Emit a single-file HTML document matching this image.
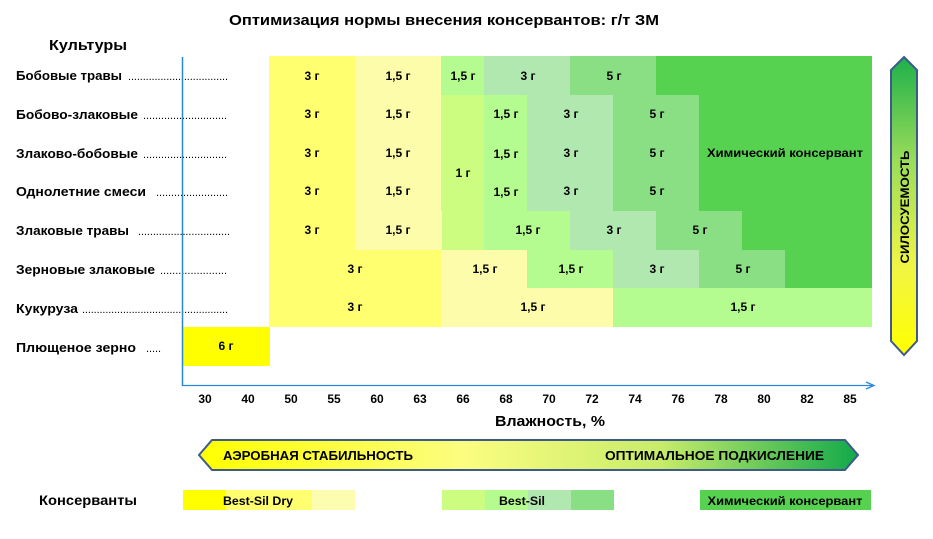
<!DOCTYPE html>
<html><head><meta charset="utf-8"><style>
html,body{margin:0;padding:0;background:#fff;}
svg{display:block;font-family:"Liberation Sans","DejaVu Sans",sans-serif;font-weight:bold;}
</style></head><body>
<svg width="933" height="539" viewBox="0 0 933 539" xmlns="http://www.w3.org/2000/svg">
<defs>
<linearGradient id="gv" x1="0" y1="0" x2="0" y2="1">
<stop offset="0" stop-color="#1DB04A"/><stop offset="0.35" stop-color="#9BDC5A"/><stop offset="0.7" stop-color="#F0F545"/><stop offset="1" stop-color="#FFFF00"/>
</linearGradient>
<linearGradient id="gh" x1="0" y1="0" x2="1" y2="0">
<stop offset="0" stop-color="#FFFF00"/><stop offset="0.4" stop-color="#FBFD80"/><stop offset="0.7" stop-color="#C8EC6A"/><stop offset="1" stop-color="#12A94A"/>
</linearGradient>
</defs>
<text x="444" y="25" font-size="15" text-anchor="middle" textLength="430" lengthAdjust="spacingAndGlyphs">Оптимизация нормы внесения консервантов: г/т ЗМ</text>
<text x="49" y="50" font-size="15" textLength="78" lengthAdjust="spacingAndGlyphs">Культуры</text>

<g font-size="13" fill="#000">
<text x="16" y="80" textLength="106" lengthAdjust="spacingAndGlyphs">Бобовые травы</text>
<text x="16" y="119" textLength="122" lengthAdjust="spacingAndGlyphs">Бобово-злаковые</text>
<text x="16" y="158" textLength="122" lengthAdjust="spacingAndGlyphs">Злаково-бобовые</text>
<text x="16" y="196" textLength="130" lengthAdjust="spacingAndGlyphs">Однолетние смеси</text>
<text x="16" y="235" textLength="113" lengthAdjust="spacingAndGlyphs">Злаковые травы</text>
<text x="16" y="274" textLength="139" lengthAdjust="spacingAndGlyphs">Зерновые злаковые</text>
<text x="16" y="313" textLength="62" lengthAdjust="spacingAndGlyphs">Кукуруза</text>
<text x="16" y="352" textLength="120" lengthAdjust="spacingAndGlyphs">Плющеное зерно</text>
</g>
<g font-size="11" font-weight="normal" fill="#000">
<text x="128" y="80" textLength="100" lengthAdjust="spacing">..................................</text>
<text x="143" y="119" textLength="84" lengthAdjust="spacing">............................</text>
<text x="143" y="158" textLength="84" lengthAdjust="spacing">............................</text>
<text x="156" y="196" textLength="72" lengthAdjust="spacing">........................</text>
<text x="138" y="235" textLength="92" lengthAdjust="spacing">...............................</text>
<text x="160" y="274" textLength="67" lengthAdjust="spacing">......................</text>
<text x="82" y="313" textLength="146" lengthAdjust="spacing">..................................................</text>
<text x="146" y="352" textLength="15" lengthAdjust="spacing">.....</text>
</g>

<!-- cells: col c x=183+43.06c ; row r y=56+38.8r -->
<g>
<!-- row0 -->
<rect x="269" y="56" width="87" height="39" fill="#FFFF70"/>
<rect x="355" y="56" width="87" height="39" fill="#FCFCAA"/>
<rect x="441" y="56" width="44" height="39" fill="#B4FC90"/>
<rect x="484" y="56" width="87" height="39" fill="#B0E8B0"/>
<rect x="570" y="56" width="87" height="39" fill="#8ADE84"/>
<rect x="656" y="56" width="216" height="39" fill="#56D250"/>
<!-- rows1-3 -->
<rect x="269" y="95" width="87" height="117" fill="#FFFF70"/>
<rect x="355" y="95" width="87" height="117" fill="#FCFCAA"/>
<rect x="441" y="95" width="44" height="156" fill="#CCFC80"/>
<rect x="484" y="95" width="44" height="117" fill="#B4FC90"/>
<rect x="527" y="95" width="87" height="117" fill="#B0E8B0"/>
<rect x="613" y="95" width="87" height="117" fill="#8ADE84"/>
<rect x="699" y="95" width="173" height="117" fill="#56D250"/>
<!-- row4 -->
<rect x="269" y="211" width="87" height="40" fill="#FFFF70"/>
<rect x="355" y="211" width="87" height="40" fill="#FCFCAA"/>
<rect x="484" y="211" width="87" height="40" fill="#B4FC90"/>
<rect x="570" y="211" width="87" height="40" fill="#B0E8B0"/>
<rect x="656" y="211" width="87" height="40" fill="#8ADE84"/>
<rect x="742" y="211" width="130" height="40" fill="#56D250"/>
<!-- row5 -->
<rect x="269" y="250" width="173" height="39" fill="#FFFF70"/>
<rect x="441" y="250" width="87" height="39" fill="#FCFCAA"/>
<rect x="527" y="250" width="87" height="39" fill="#B4FC90"/>
<rect x="613" y="250" width="87" height="39" fill="#B0E8B0"/>
<rect x="699" y="250" width="87" height="39" fill="#8ADE84"/>
<rect x="785" y="250" width="87" height="39" fill="#56D250"/>
<!-- row6 -->
<rect x="269" y="288" width="173" height="39" fill="#FFFF70"/>
<rect x="441" y="288" width="173" height="39" fill="#FCFCAA"/>
<rect x="613" y="288" width="259" height="39" fill="#B4FC90"/>
<!-- row7 -->
<rect x="183" y="327" width="87" height="39" fill="#FFFF00"/>
</g>

<g font-size="12" text-anchor="middle" fill="#000">
<text x="312" y="80">3 г</text><text x="398" y="80">1,5 г</text><text x="463" y="80">1,5 г</text><text x="528" y="80">3 г</text><text x="614" y="80">5 г</text>
<text x="312" y="118">3 г</text><text x="398" y="118">1,5 г</text><text x="506" y="118">1,5 г</text><text x="571" y="118">3 г</text><text x="657" y="118">5 г</text>
<text x="312" y="157">3 г</text><text x="398" y="157">1,5 г</text><text x="506" y="158">1,5 г</text><text x="571" y="157">3 г</text><text x="657" y="157">5 г</text>
<text x="785" y="157" textLength="156" lengthAdjust="spacingAndGlyphs">Химический консервант</text>
<text x="463" y="177">1 г</text>
<text x="312" y="195">3 г</text><text x="398" y="195">1,5 г</text><text x="506" y="196">1,5 г</text><text x="571" y="195">3 г</text><text x="657" y="195">5 г</text>
<text x="312" y="234">3 г</text><text x="398" y="234">1,5 г</text><text x="528" y="234">1,5 г</text><text x="614" y="234">3 г</text><text x="700" y="234">5 г</text>
<text x="355" y="273">3 г</text><text x="485" y="273">1,5 г</text><text x="571" y="273">1,5 г</text><text x="657" y="273">3 г</text><text x="743" y="273">5 г</text>
<text x="355" y="311">3 г</text><text x="533" y="311">1,5 г</text><text x="743" y="311">1,5 г</text>
<text x="226" y="350">6 г</text>
</g>

<!-- axes -->
<line x1="182.5" y1="57" x2="182.5" y2="386" stroke="#2A86D6" stroke-width="1.5"/>
<line x1="182" y1="385.5" x2="872" y2="385.5" stroke="#2A86D6" stroke-width="1.3"/>
<path d="M866 382 L874 385.5 L866 389" fill="none" stroke="#2A86D6" stroke-width="1.3"/>

<g font-size="12" text-anchor="middle">
<text x="205" y="403">30</text><text x="248" y="403">40</text><text x="291" y="403">50</text><text x="334" y="403">55</text><text x="377" y="403">60</text><text x="420" y="403">63</text><text x="463" y="403">66</text><text x="506" y="403">68</text><text x="549" y="403">70</text><text x="592" y="403">72</text><text x="635" y="403">74</text><text x="678" y="403">76</text><text x="721" y="403">78</text><text x="764" y="403">80</text><text x="807" y="403">82</text><text x="850" y="403">85</text>
</g>
<text x="550" y="426" font-size="15" text-anchor="middle" textLength="110" lengthAdjust="spacingAndGlyphs">Влажность, %</text>

<!-- horizontal banner -->
<path d="M199 455 L212 440 L845 440 L858 455 L845 470 L212 470 Z" fill="url(#gh)" stroke="#3D5A8A" stroke-width="2"/>
<text x="223" y="460" font-size="13" textLength="190" lengthAdjust="spacingAndGlyphs">АЭРОБНАЯ СТАБИЛЬНОСТЬ</text>
<text x="605" y="460" font-size="13" textLength="219" lengthAdjust="spacingAndGlyphs">ОПТИМАЛЬНОЕ ПОДКИСЛЕНИЕ</text>

<!-- vertical arrow -->
<path d="M904 57 L917 70 L917 341 L904 355 L891 341 L891 70 Z" fill="url(#gv)" stroke="#3D5A8A" stroke-width="2"/>
<text transform="translate(909,207) rotate(-90)" font-size="12" text-anchor="middle" textLength="113" lengthAdjust="spacingAndGlyphs">СИЛОСУЕМОСТЬ</text>

<!-- legend -->
<text x="39" y="505" font-size="14" textLength="98" lengthAdjust="spacingAndGlyphs">Консерванты</text>
<rect x="183" y="490" width="44" height="20" fill="#FFFF00"/>
<rect x="226" y="490" width="87" height="20" fill="#FFFF70"/>
<rect x="312" y="490" width="43" height="20" fill="#FDFDB0"/>
<text x="258" y="505" font-size="12" text-anchor="middle" textLength="70" lengthAdjust="spacingAndGlyphs">Best-Sil Dry</text>
<rect x="442" y="490" width="44" height="20" fill="#CCFC80"/>
<rect x="485" y="490" width="44" height="20" fill="#B4FC90"/>
<rect x="528" y="490" width="44" height="20" fill="#B0E8B0"/>
<rect x="571" y="490" width="43" height="20" fill="#8ADE84"/>
<text x="522" y="505" font-size="12" text-anchor="middle" textLength="46" lengthAdjust="spacingAndGlyphs">Best-Sil</text>
<rect x="700" y="490" width="171" height="20" fill="#56D250"/>
<text x="785" y="505" font-size="12" text-anchor="middle" textLength="155" lengthAdjust="spacingAndGlyphs">Химический консервант</text>
</svg>
</body></html>
